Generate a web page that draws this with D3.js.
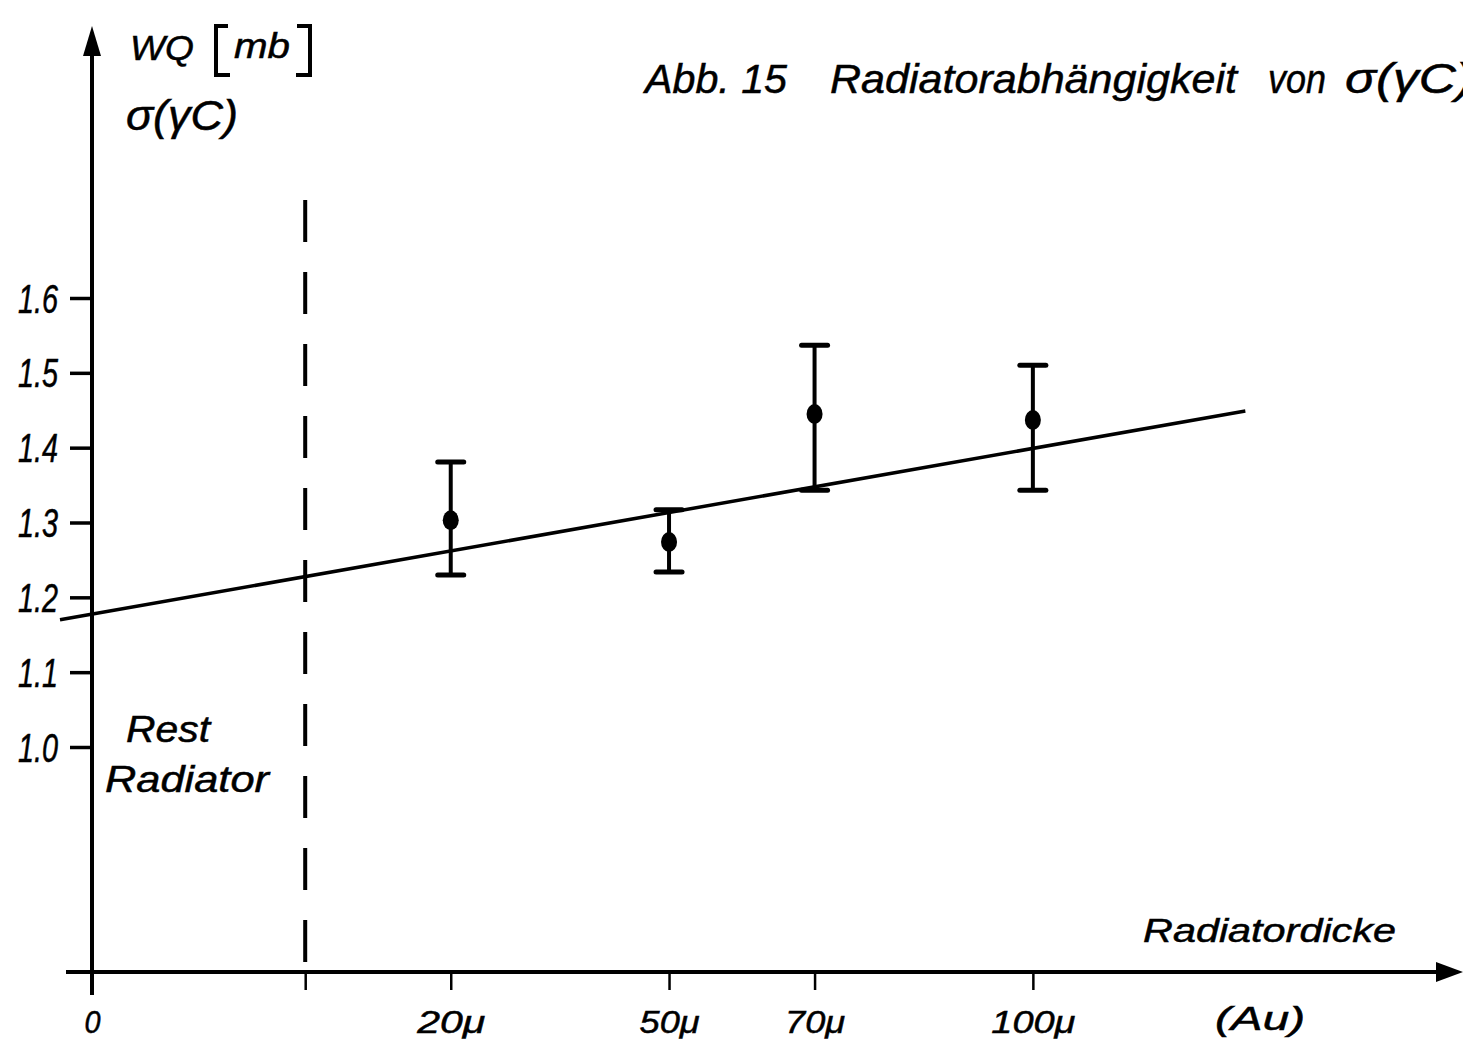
<!DOCTYPE html>
<html>
<head>
<meta charset="utf-8">
<script src="https://cdn.jsdelivr.net/npm/d3@7"></script>
<style>
  body { margin: 0; background: #fff; }
  svg text { font-family: "Liberation Sans", Arial, sans-serif; font-style: italic; fill: #000; stroke: #000; stroke-width: 0.5; }
</style>
</head>
<body>
<div id="chart"></div>
<script>
// Radiator thickness in micron (Au) for each measurement
const thickness = [20, 50, 70, 100];
// Measured cross section sigma(gamma C) in mb
const sigma = [1.303, 1.274, 1.445, 1.437];
const sigmaHigh = [1.381, 1.317, 1.537, 1.510];
const sigmaLow = [1.230, 1.234, 1.343, 1.343];

// Fitted straight line (two end points)
const fitThickness = [-33.7, 129.2];
const fitSigma = [1.170, 1.449];

// Axis ticks
const yTicks = [1.0, 1.1, 1.2, 1.3, 1.4, 1.5, 1.6];
const xTickValues = [-29.3, 0, 20, 50, 70, 100];
const xTickLabels = ["0", "", "20\u03bc", "50\u03bc", "70\u03bc", "100\u03bc"];
const xTickWidths = [16, 0, 68, 60, 60, 84];

const W = 1463, H = 1055;

const svg = d3.select("#chart").append("svg")
  .attr("width", W)
  .attr("height", H);

// Scales
const x = d3.scaleLinear()
  .domain([-29.3, 158.7])
  .range([92, 1460]);

const y = d3.scaleLinear()
  .domain([1.0, 1.6])
  .range([747, 298]);

const x0 = x(-29.3);
const yAxisPos = 972;

// Helper for free text labels, squeezed to the width seen in the scan
function label(tx, ty, size, str, len) {
  const t = svg.append("text")
    .attr("x", tx).attr("y", ty)
    .attr("font-size", size)
    .style("white-space", "pre")
    .text(str);
  if (len) t.attr("textLength", len).attr("lengthAdjust", "spacingAndGlyphs");
  return t;
}

// Y axis line with arrow
svg.append("line")
  .attr("x1", x0).attr("y1", 995)
  .attr("x2", x0).attr("y2", 50)
  .attr("stroke", "#000").attr("stroke-width", 4);
svg.append("path")
  .attr("d", `M${x0},26 L${x0 - 9},56 L${x0 + 9},56 Z`)
  .attr("fill", "#000");

// X axis line with arrow
svg.append("line")
  .attr("x1", 66).attr("y1", yAxisPos)
  .attr("x2", 1440).attr("y2", yAxisPos)
  .attr("stroke", "#000").attr("stroke-width", 4);
svg.append("path")
  .attr("d", `M1463,${yAxisPos} L1436,${yAxisPos - 10} L1436,${yAxisPos + 10} Z`)
  .attr("fill", "#000");

// Y axis ticks (left of axis)
const gY = svg.append("g")
  .attr("transform", `translate(${x0},0)`)
  .call(d3.axisLeft(y).tickValues(yTicks).tickSize(22).tickPadding(12)
    .tickFormat(d3.format(".1f")));
gY.select(".domain").remove();
gY.selectAll(".tick line").attr("stroke", "#000").attr("stroke-width", 3.5);
gY.selectAll(".tick text")
  .attr("font-size", 40)
  .attr("font-family", null)
  .attr("fill", null)
  .attr("dy", "0.35em")
  .attr("textLength", 40)
  .attr("lengthAdjust", "spacingAndGlyphs");

// X axis ticks (below axis)
const gX = svg.append("g")
  .attr("transform", `translate(0,${yAxisPos})`)
  .call(d3.axisBottom(x).tickValues(xTickValues).tickSize(18).tickPadding(20)
    .tickFormat((d, i) => xTickLabels[i]));
gX.select(".domain").remove();
gX.selectAll(".tick line").attr("stroke", "#000").attr("stroke-width", 2.5);
gX.selectAll(".tick text")
  .attr("font-size", 32)
  .attr("font-family", null)
  .attr("fill", null)
  .each(function(d, i) {
    if (xTickWidths[i]) {
      d3.select(this).attr("textLength", xTickWidths[i]).attr("lengthAdjust", "spacingAndGlyphs");
    }
  });

// Dashed line at zero radiator thickness
svg.append("line")
  .attr("x1", x(0)).attr("y1", 200)
  .attr("x2", x(0)).attr("y2", 990)
  .attr("stroke", "#000").attr("stroke-width", 4)
  .attr("stroke-dasharray", "42,30");

// Fitted line
const line = d3.line()
  .x(d => x(d[0]))
  .y(d => y(d[1]));
svg.append("path")
  .attr("d", line(fitThickness.map((t, i) => [t, fitSigma[i]])))
  .attr("fill", "none")
  .attr("stroke", "#000")
  .attr("stroke-width", 3.5);

// Error bars and points
const pts = thickness.map((t, i) => ({ t: t, v: sigma[i], hi: sigmaHigh[i], lo: sigmaLow[i] }));
const gP = svg.append("g");
gP.selectAll("line.err").data(pts).enter().append("line")
  .attr("class", "err")
  .attr("x1", d => x(d.t)).attr("x2", d => x(d.t))
  .attr("y1", d => y(d.hi)).attr("y2", d => y(d.lo))
  .attr("stroke", "#000").attr("stroke-width", 4);
gP.selectAll("line.capHi").data(pts).enter().append("line")
  .attr("class", "capHi")
  .attr("x1", d => x(d.t) - 13).attr("x2", d => x(d.t) + 13)
  .attr("y1", d => y(d.hi)).attr("y2", d => y(d.hi))
  .attr("stroke", "#000").attr("stroke-width", 5).attr("stroke-linecap", "round");
gP.selectAll("line.capLo").data(pts).enter().append("line")
  .attr("class", "capLo")
  .attr("x1", d => x(d.t) - 13).attr("x2", d => x(d.t) + 13)
  .attr("y1", d => y(d.lo)).attr("y2", d => y(d.lo))
  .attr("stroke", "#000").attr("stroke-width", 5).attr("stroke-linecap", "round");
gP.selectAll("ellipse").data(pts).enter().append("ellipse")
  .attr("cx", d => x(d.t)).attr("cy", d => y(d.v))
  .attr("rx", 8).attr("ry", 10)
  .attr("fill", "#000");

// Y axis label
label(130, 60, 35, "WQ", 64);
svg.append("path")
  .attr("d", "M 228,26 L 216,26 L 216,75 L 230,75 M 297,26 L 310,26 L 310,75 L 296,75")
  .attr("fill", "none").attr("stroke", "#000").attr("stroke-width", 4);
label(234, 58, 35, "mb", 56);
label(126, 130, 42, "\u03c3(\u03b3C)", 112);

// Title
label(645, 93, 41, "Abb. 15", 142);
label(830, 93, 41, "Radiatorabh\u00e4ngigkeit", 407);
label(1268, 93, 41, "von", 58);
label(1345, 93, 42, "\u03c3(\u03b3C)", 128);

// Rest radiator label
label(126, 742, 37, "Rest", 84);
label(105, 792, 37, "Radiator", 164);

// X axis title
label(1143, 942, 33, "Radiatordicke", 253);
label(1215, 1030, 33, "(Au)", 90);
</script>
</body>
</html>
